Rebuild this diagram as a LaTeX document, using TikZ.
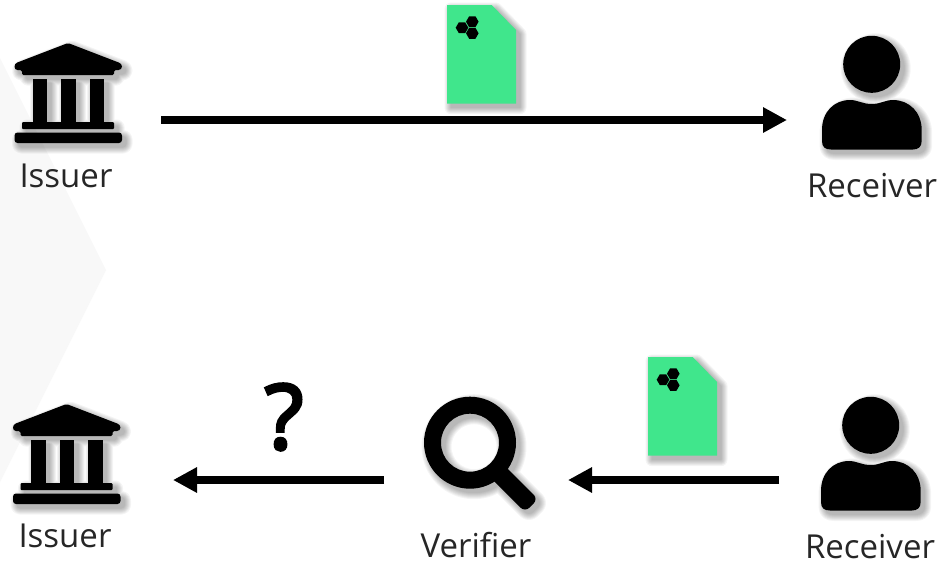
\documentclass[tikz,border=0pt]{standalone}
\usepackage{fontspec}
\setmainfont{Open Sans}
\newfontfamily\queryfont{Open Sans}[FakeBold=3.5]
\usetikzlibrary{arrows.meta}
\definecolor{docgreen}{HTML}{40E68C}
\definecolor{bgpoly}{HTML}{F8F8F8}
\definecolor{labelink}{HTML}{262626}
\tikzset{
  icon/.style={fill=black},
  docbody/.style={fill=docgreen},
  lbl/.style={font=\fontsize{33}{40}\selectfont,text=labelink,inner sep=0pt,anchor=center},
  flow/.style={line width=8pt,draw=black,-{Triangle[length=24pt,width=24pt]}},
}
\newcommand\softly[1]{%
  \foreach \w in {13,11,9,7,5,3,1}{%
    \begin{scope}[shift={(4,4)},transparency group,opacity=.045]
      \tikzset{icon/.style={fill=black,draw=black,line width=\w pt,line join=round},
               docbody/.style={fill=black,draw=black,line width=\w pt,line join=round}}
      #1
    \end{scope}}
  #1}
\newcommand\bankshape{%
  \path[icon,rounded corners=1.5pt] (68,43) -- (120,63) -- (122,65) -- (122,68) -- (120,70) -- (114,70) -- (114,75) -- (22,75) -- (22,70) -- (16,70) -- (14.5,68) -- (14.5,65) -- (16,63) -- cycle;
  \path[icon] (32.5,79) rectangle (47,122);
  \path[icon] (61,79) rectangle (75.5,122);
  \path[icon] (89.5,79) rectangle (104,122);
  \path[icon,rounded corners=1pt] (22,122) rectangle (114,129);
  \path[icon,rounded corners=3pt] (14.5,132.5) rectangle (122,143);
}
\newcommand\personshape{%
  \path[icon] (871.7,64.3) circle (28.5);
  \path[icon] (822,130) .. controls (822,112) and (834,100) .. (850,100)
     .. controls (858,100) and (862,104) .. (871.7,104)
     .. controls (881,104) and (885,100) .. (893,100)
     .. controls (909,100) and (921.7,112) .. (921.7,130)
     -- (921.7,141) .. controls (921.7,147) and (918,149.5) .. (913,149.5)
     -- (831,149.5) .. controls (825,149.5) and (822,147) .. (822,141) -- cycle;
}
\newcommand\docshape{%
  \path[docbody] (447,5) -- (491.7,5) -- (516,30) -- (516,103.7) -- (447,103.7) -- cycle;
}
\newcommand\hexat[1]{%
  \fill[black] (#1) ++(6.3,0) -- ++(-3.15,5.45) -- ++(-6.3,0) -- ++(-3.15,-5.45) -- ++(3.15,-5.45) -- ++(6.3,0) -- cycle;
}
\newcommand\docicon{%
  \softly{\docshape}
  \hexat{462,27.7}
  \hexat{472.3,21.7}
  \hexat{472.3,33.3}
}
\newcommand\lensshape{%
  \path[icon,even odd rule] (470,442.7) circle (46) (470,442.7) circle (29);
  \path[icon] (505,466) [rounded corners=6pt] -- (538,499) -- (525,512) [sharp corners] -- (492,479) -- cycle;
}
\begin{document}
\begin{tikzpicture}[x=1pt,y=-1pt]
\useasboundingbox (0,0) rectangle (943,563);
\fill[white] (0,0) rectangle (943,563);
\fill[bgpoly] (0,58) -- (106,270) -- (0,482) -- cycle;

% top row
\softly{\bankshape}
\softly{\personshape}
\docicon
\node[lbl] (issuerA) at (66,176) {Issuer};
\node[lbl] (receiverA) at (872,186) {Receiver};
\coordinate (aStart) at (161,120);
\coordinate (aEnd) at (787,120);
\draw[flow] (aStart) -- (aEnd);

% bottom row
\begin{scope}[shift={(-1.5,361)}]
  \softly{\bankshape}
\end{scope}
\begin{scope}[shift={(-1,361)}]
  \softly{\personshape}
\end{scope}
\begin{scope}[shift={(201,352)}]
  \docicon
\end{scope}
\softly{\lensshape}
\node[lbl] (issuerB) at (65,536) {Issuer};
\node[lbl] (verifier) at (476,545) {Verifier};
\node[lbl] (receiverB) at (870,547) {Receiver};
\node[inner sep=0pt,anchor=center,text=black,font=\fontsize{90}{90}\queryfont] (query) at (284,417) {?};
\coordinate (bStart) at (779,480);
\coordinate (bEnd) at (568,480);
\coordinate (cStart) at (384,480);
\coordinate (cEnd) at (173,480);
\draw[flow] (bStart) -- (bEnd);
\draw[flow] (cStart) -- (cEnd);
\end{tikzpicture}
\end{document}
